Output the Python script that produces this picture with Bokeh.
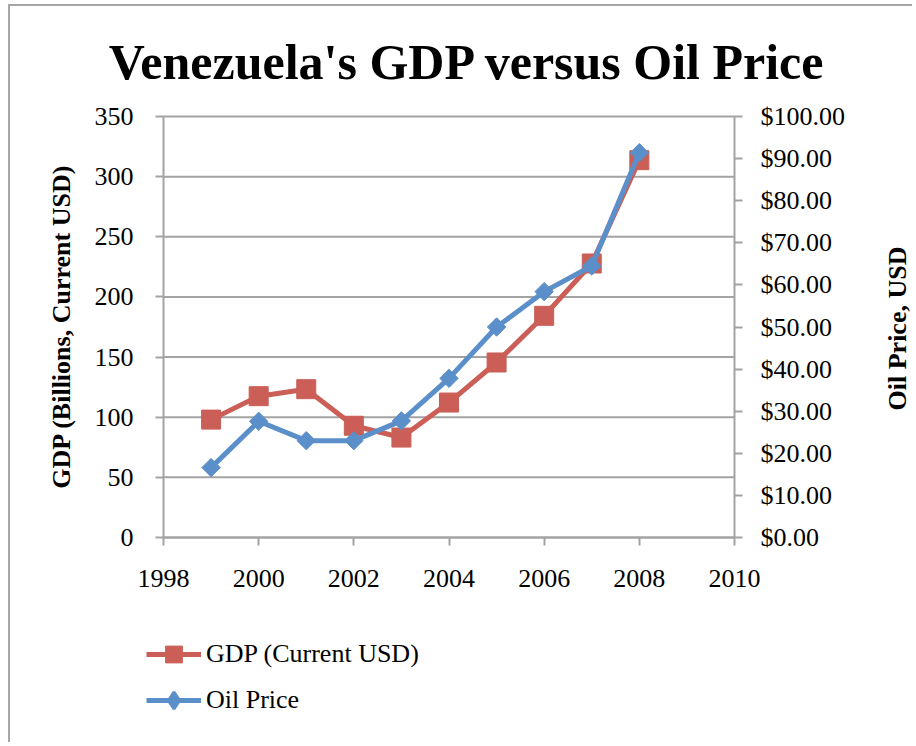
import math
from bokeh.plotting import figure
from bokeh.models import (LinearAxis, Range1d, Legend, LegendItem, FixedTicker,
                          NumeralTickFormatter, Label)
from bokeh.embed import file_html
from bokeh.resources import INLINE

# ---- data ----
years = [1999, 2000, 2001, 2002, 2003, 2004, 2005, 2006, 2007, 2008]
gdp_billions = [98, 117.5, 123.3, 92.9, 83.1, 112.2, 145.5, 184.3, 227.8, 313.7]
oil_price = [16.6, 27.6, 23.0, 23.0, 27.7, 37.8, 50.0, 58.4, 64.5, 91.4]

x_ticks = [1998, 2000, 2002, 2004, 2006, 2008, 2010]
gdp_ticks = [0, 50, 100, 150, 200, 250, 300, 350]
oil_ticks = [0, 10, 20, 30, 40, 50, 60, 70, 80, 90, 100]

title_text = "Venezuela's GDP versus Oil Price"
left_label = "GDP (Billions, Current USD)"
right_label = "Oil Price, USD"
series_names = ["GDP (Current USD)", "Oil Price"]

RED = "#CB5F57"
BLUE = "#5B8FC9"
GRID = "#A3A3A3"
FONT = "Liberation Serif"

# ---- layout constants (canvas pixels; positioning only) ----
W, H = 904, 738
PX_LEFT, PX_RIGHT = 153, 724     # canvas x of the first / last year tick
PX_BOTTOM, PX_TOP = 531, 110     # canvas y (from top) of the value axis ends

x_px = (PX_RIGHT - PX_LEFT) / (x_ticks[-1] - x_ticks[0])
g_px = (PX_BOTTOM - PX_TOP) / (gdp_ticks[-1] - gdp_ticks[0])
o_px = (PX_BOTTOM - PX_TOP) / (oil_ticks[-1] - oil_ticks[0])

p = figure(width=W, height=H, title=None,
           x_range=Range1d(x_ticks[0] - PX_LEFT / x_px, x_ticks[-1] + (W - PX_RIGHT) / x_px),
           y_range=Range1d(gdp_ticks[0] - (H - PX_BOTTOM) / g_px, gdp_ticks[-1] + PX_TOP / g_px),
           output_backend="svg", toolbar_location=None, min_border=0,
           x_axis_type=None, y_axis_type=None)
p.extra_y_ranges = {"oil": Range1d(oil_ticks[0] - (H - PX_BOTTOM) / o_px,
                                   oil_ticks[-1] + PX_TOP / o_px)}
p.outline_line_color = None
p.background_fill_color = "white"
p.border_fill_color = "white"
p.styles = {"border-left": "2px solid #A6A6A6", "border-top": "2px solid #A6A6A6",
            "margin-left": "8px", "margin-top": "4px"}

def style_axis(ax):
    ax.axis_line_color = GRID
    ax.axis_line_width = 2
    ax.major_tick_line_color = GRID
    ax.major_tick_line_width = 2
    ax.major_tick_in = 0
    ax.major_tick_out = 8
    ax.minor_tick_line_color = None
    ax.major_label_text_font = FONT
    ax.major_label_text_font_size = "26px"
    ax.major_label_text_color = "black"

# horizontal gridlines at the GDP ticks, spanning the plotted years
p.segment(x0=[x_ticks[0]] * len(gdp_ticks), x1=[x_ticks[-1]] * len(gdp_ticks),
          y0=gdp_ticks, y1=gdp_ticks, line_color=GRID, line_width=2)

xax = LinearAxis(ticker=FixedTicker(ticks=x_ticks), fixed_location=gdp_ticks[0],
                 bounds=(x_ticks[0], x_ticks[-1]))
style_axis(xax)
xax.major_label_standoff = 24
p.add_layout(xax, "below")

lax = LinearAxis(ticker=FixedTicker(ticks=gdp_ticks), fixed_location=x_ticks[0],
                 bounds=(gdp_ticks[0], gdp_ticks[-1]))
style_axis(lax)
lax.major_label_standoff = 22
p.add_layout(lax, "left")

rax = LinearAxis(y_range_name="oil", ticker=FixedTicker(ticks=oil_ticks),
                 fixed_location=x_ticks[-1], bounds=(oil_ticks[0], oil_ticks[-1]),
                 formatter=NumeralTickFormatter(format="$0.00"))
style_axis(rax)
rax.major_label_standoff = 18
p.add_layout(rax, "right")

r1 = p.line(years, gdp_billions, line_color=RED, line_width=5)
m1 = p.scatter(years, gdp_billions, marker="square", size=19,
               fill_color=RED, line_color=RED)
r2 = p.line(years, oil_price, line_color=BLUE, line_width=5, y_range_name="oil")
# diamond-shaped copy of the oil markers (hidden under the rotated squares),
# used as the legend swatch because the legend draws markers unrotated
m2_key = p.scatter(years, oil_price, marker="diamond", size=12, fill_color=BLUE,
                   line_color=BLUE, line_width=3, y_range_name="oil")
m2 = p.scatter(years, oil_price, marker="square", angle=math.pi / 4, size=13,
               fill_color=BLUE, line_color=BLUE, y_range_name="oil")

# texts (screen units: pixels from the canvas' bottom-left corner)
p.add_layout(Label(x=457, y=H - 55, x_units="screen", y_units="screen",
                   text=title_text, text_align="center", text_baseline="alphabetic",
                   text_font=FONT, text_font_style="bold", text_font_size="50px",
                   text_color="black"))
p.add_layout(Label(x=51, y=H - 320, x_units="screen", y_units="screen",
                   text=left_label, angle=math.pi / 2, text_align="center",
                   text_baseline="middle", text_font=FONT, text_font_style="bold",
                   text_font_size="26px", text_color="black"))
p.add_layout(Label(x=887, y=H - 322, x_units="screen", y_units="screen",
                   text=right_label, angle=math.pi / 2, text_align="center",
                   text_baseline="middle", text_font=FONT, text_font_style="bold",
                   text_font_size="26px", text_color="black"))

legend = Legend(items=[LegendItem(label=series_names[0], renderers=[r1, m1]),
                       LegendItem(label=series_names[1], renderers=[r2, m2_key])],
                location=(136, 23))
legend.border_line_color = None
legend.background_fill_alpha = 0
legend.padding = 0
legend.margin = 0
legend.spacing = 4
legend.glyph_width = 55
legend.glyph_height = 42
legend.label_height = 42
legend.label_standoff = 5
legend.label_text_font = FONT
legend.label_text_font_size = "26px"
legend.label_text_color = "black"
p.add_layout(legend, "center")

open("out.html", "w").write(file_html(p, INLINE))
